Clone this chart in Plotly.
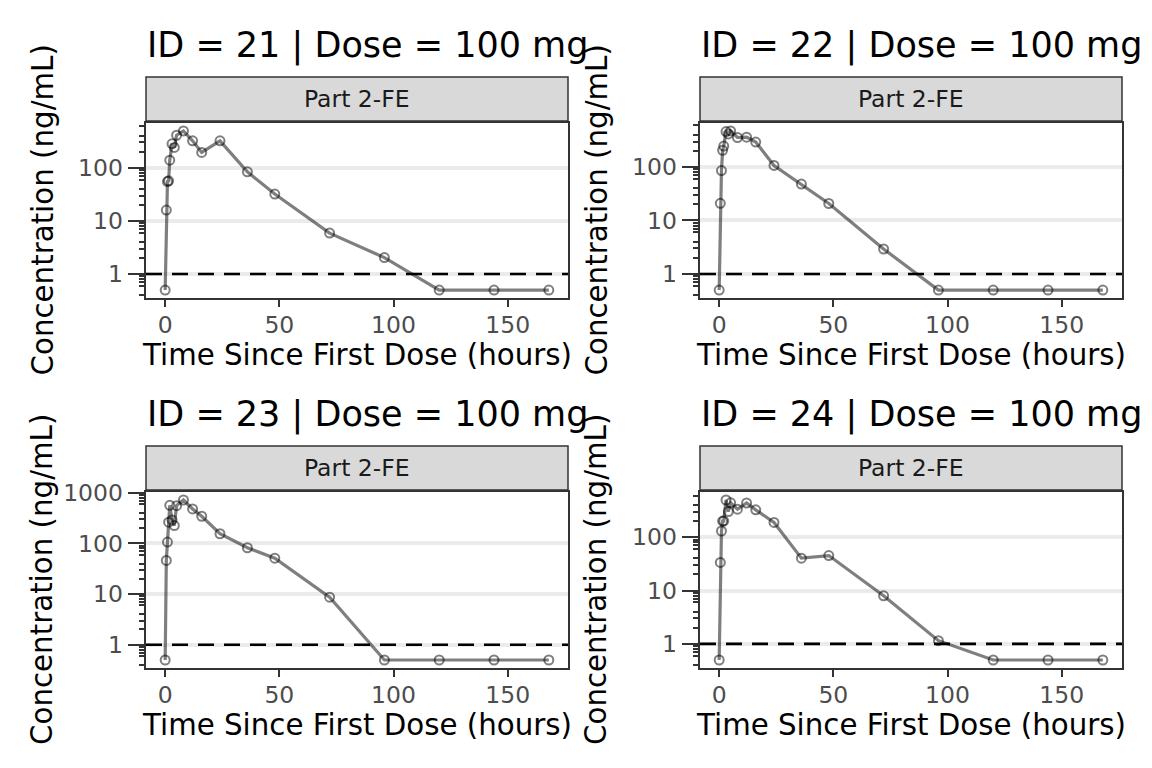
import numpy as np
import plotly.graph_objects as go

# ---------------- data ----------------
time_h = [0, 0.5, 1, 1.5, 2, 3, 4, 5, 8, 12, 16, 24, 36, 48, 72, 96, 120, 144, 168]
subject_ids = ["21", "22", "23", "24"]
dose_label = "100 mg"
strip_label = "Part 2-FE"
lloq = 1

conc_21 = [0.5, 16, 55, 57, 139, 283, 242, 410, 494, 322, 195, 322, 84, 32, 5.9, 2.04, 0.5, 0.5, 0.5]
conc_22 = [0.5, 21, 86, 205, 247, 460, 417, 473, 357, 362, 293, 107, 48, 20.8, 2.93, 0.5, 0.5, 0.5, 0.5]
conc_23 = [0.5, 46, 106, 262, 565, 291, 225, 556, 718, 478, 343, 155, 82, 51, 8.7, 0.5, 0.5, 0.5, 0.5]
conc_24 = [0.5, 33.5, 130, 200, 200, 495, 300, 438, 333, 435, 324, 188, 40.3, 45.1, 7.96, 1.15, 0.5, 0.5, 0.5]
concs = [conc_21, conc_22, conc_23, conc_24]

x_ticks = [0, 50, 100, 150]
y_major = [1, 10, 100, 1000]
y_major_text = ["1", "10", "100", "1000"]

# ---------------- layout geometry (pixels in the page) ----------------
W, H = 1152, 768
OFF = 8  # default page body margin
col_px = [(146, 568), (700, 1122)]
row_px = [(123, 298), (492, 668)]
strip_h = 44
strip_gap = 2
FONT = "DejaVu Sans"
TICKLEN = 7.3


def px_x(p):
    return (p - OFF) / W


def px_y(p):
    return 1 - (p - OFF) / H


decades = range(-1, 4)
mid_vals = [5 * 10.0 ** k for k in decades]
minor_vals = [d * 10.0 ** k for k in decades for d in (2, 3, 4, 6, 7, 8, 9)]


def ax_id(prefix, n):
    return prefix if n == 1 else f"{prefix}{n}"


fig = go.Figure()
annotations = []
shapes = []
layout_axes = {}

for i, (sid, conc) in enumerate(zip(subject_ids, concs)):
    r, c = divmod(i, 2)
    n = i + 1
    x0p, x1p = col_px[c]
    y0p, y1p = row_px[r]
    xdom = [px_x(x0p), px_x(x1p)]
    ydom = [px_y(y1p), px_y(y0p)]

    # ggplot-style 5% expansion
    tmin, tmax = min(time_h), max(time_h)
    xpad = 0.05 * (tmax - tmin)
    xr = [tmin - xpad, tmax + xpad]
    lmin, lmax = np.log10(min(conc)), np.log10(max(conc))
    ypad = 0.05 * (lmax - lmin)
    yr = [lmin - ypad, lmax + ypad]

    xa, ya = ax_id("x", n), ax_id("y", n)
    fig.add_trace(go.Scatter(
        x=time_h, y=conc, mode="lines", xaxis=xa, yaxis=ya, showlegend=False,
        line=dict(color="rgba(0,0,0,0.5)", width=3.2), hoverinfo="skip"))
    fig.add_trace(go.Scatter(
        x=time_h, y=conc, mode="markers", xaxis=xa, yaxis=ya, showlegend=False,
        marker=dict(symbol="circle-open", size=9, color="rgba(0,0,0,0.5)",
                    line=dict(width=2))))

    layout_axes[ax_id("xaxis", n)] = dict(
        domain=xdom, anchor=ya, range=xr, tickmode="array", tickvals=x_ticks,
        ticks="outside", ticklen=TICKLEN, tickwidth=2, tickcolor="#333333",
        showgrid=False, zeroline=False, showline=True, mirror=True,
        linecolor="#333333", linewidth=1.8, automargin=False,
        ticklabelstandoff=-2,
        tickfont=dict(family=FONT, size=23.5, color="#4D4D4D"))
    layout_axes[ax_id("yaxis", n)] = dict(
        domain=ydom, anchor=xa, type="log", range=yr, tickmode="array",
        tickvals=y_major, ticktext=y_major_text,
        ticks="outside", ticklen=TICKLEN * 2.25, tickwidth=2, tickcolor="#333333",
        showgrid=True, gridcolor="#EBEBEB", gridwidth=3.5,
        zeroline=False, showline=True, mirror=True, automargin=False,
        linecolor="#333333", linewidth=1.8,
        tickfont=dict(family=FONT, size=23.5, color="#4D4D4D"),
        minor=dict(tickmode="array", tickvals=minor_vals, ticks="outside",
                   ticklen=TICKLEN * 0.75, tickwidth=2, tickcolor="#333333",
                   showgrid=False))
    layout_axes[f"yaxis{n + 4}"] = dict(
        overlaying=ya, anchor=xa, side="left", type="log", range=yr,
        tickmode="array", tickvals=mid_vals, ticks="outside", automargin=False,
        ticklen=TICKLEN * 1.5, tickwidth=2, tickcolor="#333333",
        showticklabels=False, showgrid=False, zeroline=False, showline=False)

    # LLOQ dashed line
    shapes.append(dict(type="line", xref=f"{xa} domain", yref=ya, x0=0, x1=1,
                       y0=lloq, y1=lloq, layer="above",
                       line=dict(color="black", width=2.6, dash="16px,10px")))

    # strip
    s_bot = y0p - strip_gap
    s_top = s_bot - strip_h
    shapes.append(dict(type="rect", xref="paper", yref="paper",
                       x0=px_x(x0p), x1=px_x(x1p), y0=px_y(s_bot), y1=px_y(s_top),
                       fillcolor="#D9D9D9", line=dict(color="#333333", width=1.5),
                       layer="below"))
    annotations.append(dict(text=strip_label, xref="paper", yref="paper",
                            x=px_x((x0p + x1p) / 2), y=px_y((s_top + s_bot) / 2),
                            xanchor="center", yanchor="middle", showarrow=False,
                            font=dict(family=FONT, size=23.5, color="#1A1A1A")))
    # title
    annotations.append(dict(text=f"ID = {sid} | Dose = {dose_label}", xref="paper", yref="paper",
                            x=px_x(x0p - 1), y=px_y(y0p - 78),
                            xanchor="left", yanchor="middle", showarrow=False,
                            font=dict(family=FONT, size=35, color="black")))
    # x title
    annotations.append(dict(text="Time Since First Dose (hours)", xref="paper", yref="paper",
                            x=px_x((x0p + x1p) / 2), y=px_y(y1p + 57),
                            xanchor="center", yanchor="middle", showarrow=False,
                            font=dict(family=FONT, size=29.3, color="black")))
    # y title
    annotations.append(dict(text="Concentration (ng/mL)", xref="paper", yref="paper",
                            x=px_x(x0p - 104), y=px_y((y0p + y1p) / 2),
                            xanchor="center", yanchor="middle", showarrow=False, textangle=-90,
                            font=dict(family=FONT, size=29.3, color="black")))

fig.update_layout(
    width=W, height=H, margin=dict(l=0, r=0, t=0, b=0, pad=0, autoexpand=False),
    paper_bgcolor="white", plot_bgcolor="white",
    font=dict(family=FONT), showlegend=False,
    annotations=annotations, shapes=shapes, **layout_axes)

fig.write_html("out.html")
